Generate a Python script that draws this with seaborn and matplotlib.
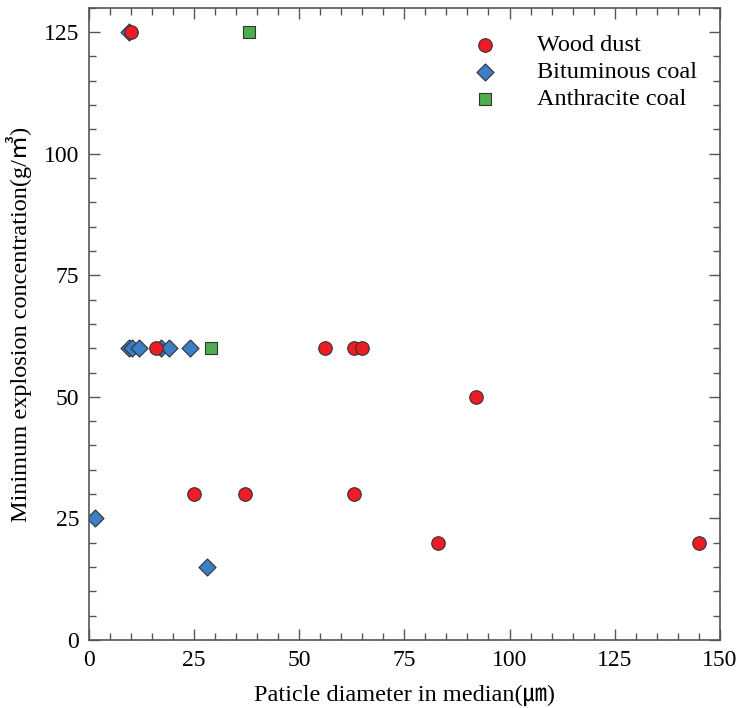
import pandas as pd
import matplotlib.pyplot as plt
import seaborn as sns
from matplotlib.ticker import MultipleLocator

# Data
wood_x = [10, 16, 25, 37, 56, 63, 65, 63, 92, 83, 145]
wood_y = [125, 60, 30, 30, 60, 60, 60, 30, 50, 20, 20]
bitum_x = [9.5, 1.5, 28, 9.5, 10.3, 12, 17, 19, 24]
bitum_y = [125, 25, 15, 60, 60, 60, 60, 60, 60]
anth_x = [29, 38]
anth_y = [60, 125]

names = ['Wood dust', 'Bituminous coal', 'Anthracite coal']
colors = ['#ec1c24', '#3b7fc4', '#4cae4c']
markers = ['o', 'D', 's']
sizes = [95, 75, 70]

df = pd.concat([
    pd.DataFrame({'x': bitum_x, 'y': bitum_y, 'kind': names[1]}),
    pd.DataFrame({'x': anth_x, 'y': anth_y, 'kind': names[2]}),
    pd.DataFrame({'x': wood_x, 'y': wood_y, 'kind': names[0]}),
])

sns.set_style('ticks')
plt.rcParams['font.family'] = ['Liberation Serif', 'Noto Sans CJK JP', 'DejaVu Sans']
plt.rcParams['text.color'] = 'black'
plt.rcParams['axes.labelcolor'] = 'black'
plt.rcParams['xtick.labelcolor'] = 'black'
plt.rcParams['ytick.labelcolor'] = 'black'

fig = plt.figure(figsize=(7.42, 7.08), dpi=100)
ax = fig.add_axes([0.12, 0.096, 0.85, 0.893])

for name, c, m, s in zip(names, colors, markers, sizes):
    sub = df[df['kind'] == name]
    sns.scatterplot(data=sub, x='x', y='y', color=c, marker=m, s=s,
                    edgecolor='#333333', linewidth=0.8, ax=ax, label=name,
                    zorder=3 if name == 'Wood dust' else 2)

ax.set_xlim(0, 150)
ax.set_ylim(0, 130)
ax.xaxis.set_major_locator(MultipleLocator(25))
ax.xaxis.set_minor_locator(MultipleLocator(5))
ax.yaxis.set_major_locator(MultipleLocator(25))
ax.yaxis.set_minor_locator(MultipleLocator(5))
ax.tick_params(which='both', direction='in', top=True, right=True,
               color='#555555', labelcolor='black', labelsize=17, width=1.0, pad=7)
ax.tick_params(which='major', length=8)
ax.tick_params(which='minor', length=5)
for sp in ax.spines.values():
    sp.set_color('#555555')
    sp.set_linewidth(1.2)

ax.set_xlabel('Paticle diameter in median(㎛)', fontsize=17.5, color='black')
ax.set_ylabel('Minimum explosion concentration(g/㎥)', fontsize=17.5, color='black')
ax.xaxis.set_label_coords(0.5, -0.07)
ax.yaxis.set_label_coords(-0.09, 0.5)

leg = ax.legend(loc='upper right', bbox_to_anchor=(0.991, 0.985), frameon=False,
                fontsize=17.5, handletextpad=1.15, labelspacing=0.2,
                borderaxespad=0.3)
for t in leg.get_texts():
    t.set_color('black')

plt.savefig('out.png', dpi=100)
